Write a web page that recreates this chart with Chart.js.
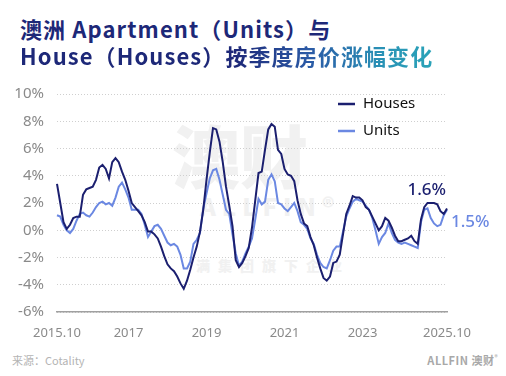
<!DOCTYPE html>
<html>
<head>
<meta charset="utf-8">
<script src="https://cdn.jsdelivr.net/npm/chart.js@4.4.1/dist/chart.umd.min.js"></script>
<style>
  html, body { margin: 0; padding: 0; background: #fff; }
  body { width: 506px; height: 376px; position: relative; overflow: hidden; font-family: "Noto Sans", "Noto Sans CJK SC", sans-serif; }
  .title { position: absolute; left: 20px; top: 15px; font-family: "Noto Sans CJK SC", sans-serif; font-weight: 700; font-size: 22px; line-height: 27px; letter-spacing: 1.1px; color: #1d2878; white-space: nowrap; }
  .title .l2 { display: inline-block; background: linear-gradient(90deg, #1d2878 0%, #1d2878 52%, #2b5aa6 70%, #2993b6 88%, #2aa3b8 100%); -webkit-background-clip: text; background-clip: text; color: transparent; }
  .wm { position: absolute; color: #f1f1f1; font-family: "Noto Sans CJK SC", sans-serif; font-weight: 900; white-space: nowrap; }
  #wrap { position: absolute; left: 0; top: 80px; width: 506px; height: 266px; }
  .src { position: absolute; left: 12px; top: 352px; font-size: 11px; color: #b4b4b4; font-family: "Noto Sans CJK SC", sans-serif; }
  .logo { position: absolute; right: 8px; top: 352px; font-size: 11px; color: #a8a8a8; font-weight: 700; font-family: "Noto Sans CJK SC", sans-serif; letter-spacing: 0.5px; }
</style>
</head>
<body>
<div class="title">澳洲 Apartment（Units）与<br><span class="l2">House（Houses）按季度房价涨幅变化</span></div>
<div class="wm" style="left:172px;top:104px;font-size:68px;">澳财</div>
<div class="wm" style="left:200px;top:188px;font-size:24px;letter-spacing:6px;">ALLFIN®</div>
<div class="wm" style="left:196px;top:255px;font-size:14px;letter-spacing:8px;">满集团旗下企业</div>
<div id="wrap"><canvas id="c"></canvas></div>
<div class="src">来源：Cotality</div>
<div class="logo">ALLFIN 澳财<sup style="font-size:6px">®</sup></div>
<script>
// monthly categories, 2015.10 - 2025.10
const months = [];
for (let y = 2015, m = 10; y < 2025 || (y === 2025 && m <= 10); m++) {
  if (m > 12) { m = 1; y++; }
  months.push(y + '.' + String(m).padStart(2, '0'));
}

const xTickMonths = ['2015.10', '2017.08', '2019.08', '2021.08', '2023.08', '2025.10'];
const xTickText = ['2015.10', '2017', '2019', '2021', '2023', '2025.10'];

const housesValues = [
  3.4, 2.0, 0.6, 0.1, 0.4, 0.9, 1.0, 1.0, 2.6, 3.0,
  3.1, 3.2, 3.7, 4.6, 4.8, 4.5, 3.8, 5.0, 5.3, 5.0,
  4.3, 3.7, 2.9, 2.0, 1.7, 1.4, 1.1, 0.6, -0.1, -0.1,
  -0.3, -0.6, -1.2, -1.9, -2.5, -2.8, -3.0, -3.4, -3.9, -4.3,
  -3.7, -2.9, -2.0, -1.2, -0.1, 1.5, 3.7, 5.7, 7.5, 7.4,
  6.5, 5.0, 3.2, 1.8, 0.3, -2.2, -2.7, -2.4, -1.9, -1.3,
  0.2, 2.2, 4.2, 4.3, 5.9, 7.4, 7.8, 7.6, 5.9, 5.6,
  4.5, 4.1, 4.0, 3.6, 2.2, 1.2, 0.5, 0.3, -0.5, -1.1,
  -2.0, -2.8, -3.5, -3.7, -3.4, -2.4, -2.3, -1.8, -0.3, 1.2,
  1.8, 2.5, 2.4, 2.4, 2.2, 1.7, 1.5, 1.0, 0.5, 0.0,
  0.3, 0.9, 0.7, 0.2, -0.4, -0.8, -0.8, -0.7, -0.6, -0.4,
  -0.8, -1.0, 0.8, 1.7, 2.0, 2.0, 2.0, 1.9, 1.4, 1.2,
  1.6
];

const unitsValues = [
  1.1, 1.0, 0.4, 0.0, -0.2, 0.1, 0.7, 1.2, 1.3, 1.1,
  1.0, 1.3, 1.7, 2.0, 2.1, 1.9, 2.0, 1.8, 2.4, 3.2,
  3.5, 3.0, 2.4, 1.5, 1.5, 1.5, 1.2, 0.4, -0.5, -0.1,
  0.3, 0.4, 0.1, -0.4, -0.9, -1.1, -1.0, -1.2, -1.8, -2.8,
  -2.8, -2.3, -1.0, -0.7, -0.2, 1.6, 2.7, 3.8, 4.4, 4.5,
  3.7, 2.6, 1.5, 1.2, -0.3, -1.7, -2.6, -2.3, -1.7, -1.2,
  -0.6, 0.8, 2.3, 1.9, 2.1, 3.7, 4.1, 3.6, 2.0, 1.9,
  1.6, 1.4, 1.7, 2.0, 1.4, 0.6, 0.4, 0.1, -0.6, -1.0,
  -1.8, -2.4, -2.7, -2.8, -2.2, -1.5, -1.2, -1.2, -0.1, 1.0,
  1.6, 2.1, 2.3, 2.2, 2.1, 1.8, 1.5, 0.9, 0.0, -1.0,
  -0.5, -0.2, 0.5, -0.2, -0.7, -0.9, -1.0, -0.9, -1.0, -1.1,
  -1.2, -1.3, 0.6, 1.5, 1.6, 0.9, 0.5, 0.3, 0.4, 1.1,
  1.5
];

const seriesNames = ['Houses', 'Units'];
const seriesColors = ['#1b1f6f', '#6b88e2'];

const overlay = {
  id: 'overlay',
  afterDatasetsDraw(chart) {
    const ctx = chart.ctx;
    const ca = chart.chartArea;
    ctx.save();
    // legend
    ctx.font = '15px "Noto Sans", sans-serif';
    ctx.textBaseline = 'middle';
    ctx.textAlign = 'left';
    chart.data.datasets.forEach((ds, i) => {
      const y = ca.top + 10 + i * 27;
      ctx.strokeStyle = ds.borderColor;
      ctx.lineWidth = 2.5;
      ctx.beginPath();
      ctx.moveTo(ca.left + 281, y);
      ctx.lineTo(ca.left + 298, y);
      ctx.stroke();
      ctx.fillStyle = '#111';
      ctx.fillText(ds.label, ca.left + 306, y);
    });
    // end labels
    ctx.font = '500 17px "Noto Sans", sans-serif';
    chart.data.datasets.forEach((ds, i) => {
      const meta = chart.getDatasetMeta(i);
      const pt = meta.data[meta.data.length - 1];
      const v = ds.data[ds.data.length - 1];
      ctx.fillStyle = ds.borderColor;
      if (i === 0) {
        ctx.textAlign = 'right';
        ctx.fillText(v.toFixed(1) + '%', pt.x - 1, pt.y - 18);
      } else {
        ctx.textAlign = 'left';
        ctx.fillText(v.toFixed(1) + '%', pt.x + 4, pt.y + 12);
      }
    });
    ctx.restore();
  }
};

new Chart(document.getElementById('c'), {
  type: 'line',
  data: {
    labels: months,
    datasets: [
      { label: seriesNames[0], data: housesValues, borderColor: seriesColors[0], borderWidth: 2, pointRadius: 0, tension: 0 },
      { label: seriesNames[1], data: unitsValues, borderColor: seriesColors[1], borderWidth: 2, pointRadius: 0, tension: 0 }
    ]
  },
  options: {
    responsive: true,
    maintainAspectRatio: false,
    animation: false,
    layout: { padding: { left: 0, right: 59, top: 14, bottom: 0 } },
    plugins: { legend: { display: false }, tooltip: { enabled: false } },
    scales: {
      x: {
        grid: { display: false },
        border: { display: true, color: '#a0a0a0', width: 1.5 },
        ticks: {
          autoSkip: false,
          maxRotation: 0,
          padding: 5,
          color: '#8a8a8a',
          font: { size: 13, family: '"Noto Sans", sans-serif' },
          callback: (v, i) => {
            const k = xTickMonths.indexOf(months[i]);
            return k >= 0 ? xTickText[k] : null;
          }
        },
        afterFit: (scale) => { scale.height = 34; }
      },
      y: {
        min: -6,
        max: 10,
        grid: { color: '#cfcfcf', lineWidth: 1, drawTicks: true, tickLength: 10, tickColor: 'rgba(0,0,0,0)' },
        border: { display: false, dash: [1, 2] },
        ticks: {
          stepSize: 2,
          padding: 3,
          color: '#8a8a8a',
          font: { size: 15, family: '"Noto Sans", sans-serif' },
          callback: (v) => v + '%'
        },
        afterFit: (scale) => { scale.width = 57; }
      }
    }
  },
  plugins: [overlay]
});
</script>
</body>
</html>
